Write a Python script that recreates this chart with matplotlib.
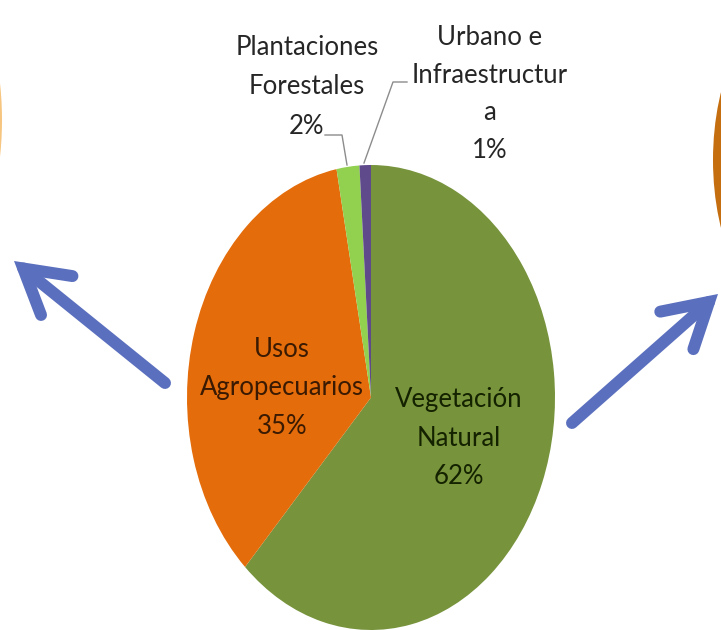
import matplotlib
matplotlib.use("Agg")
import matplotlib.pyplot as plt
from matplotlib import font_manager
from matplotlib.patches import Ellipse

# land-use shares, clockwise from 12 o'clock
categories = ["Vegetación\nNatural", "Usos\nAgropecuarios",
              "Plantaciones\nForestales", "Urbano e\nInfraestructur\na"]
shares = [62, 35, 2, 1]
colors = ["#77933C", "#E46C0A", "#92D050", "#5F4B8B"]

# pick a narrow, Calibri-ish face if one is there
installed = {f.name for f in font_manager.fontManager.ttflist}
face = next((f for f in ["Liberation Sans Narrow", "Lato", "Open Sans"] if f in installed),
            "DejaVu Sans")
plt.rcParams["font.family"] = [face, "DejaVu Sans"]

W, H = 721, 630
fig = plt.figure(figsize=(W / 100, H / 100), dpi=100)

# pie is drawn stretched into an ellipse, like the original picture
pie_l, pie_r, pie_t, pie_b = 187, 555, 165, 630
pax = fig.add_axes([pie_l / W, 1 - pie_b / H, (pie_r - pie_l) / W, (pie_b - pie_t) / H])
pax.pie(shares, colors=colors, startangle=90, counterclock=False,
        wedgeprops=dict(linewidth=0))
pax.set_aspect("auto")
pax.set_xlim(-1, 1)
pax.set_ylim(-1, 1)
pax.axis("off")

# overlay axes in pixel coordinates (y down) for labels, arrows, leaders
ov = fig.add_axes([0, 0, 1, 1])
ov.set_xlim(0, W)
ov.set_ylim(H, 0)
ov.axis("off")

# bits of neighbouring pies cut off at the edges
ov.add_patch(Ellipse((-40, 120), 84, 242, color="#F4B860", alpha=0.8, lw=0))
ov.add_patch(Ellipse((790, 160), 154, 306, color="#C46E10", lw=0))

fs = 18.5
# inside labels
ov.text(282, 388, f"{categories[1]}\n{shares[1]}%", ha="center", va="center",
        fontsize=fs, color="#3A1A02", linespacing=1.67)
ov.text(459, 438, f"{categories[0]}\n{shares[0]}%", ha="center", va="center",
        fontsize=fs, color="#142200", linespacing=1.67)
# outside labels
ov.text(307, 87, f"{categories[2]}\n{shares[2]}%", ha="center", va="center",
        fontsize=fs, color="#262626", linespacing=1.72)
ov.text(490, 94, f"{categories[3]}\n{shares[3]}%", ha="center", va="center",
        fontsize=fs, color="#262626", linespacing=1.64)

# leader lines
ov.plot([325, 342, 347], [135, 135, 165], color="#8C8C8C", lw=1)
ov.plot([407, 393, 364], [82, 82, 163], color="#8C8C8C", lw=1)

# blue arrows
arrow_col = "#5A6FBE"
for tail, tip in [((165, 383), (14, 261)), ((572, 423), (718, 294))]:
    ov.annotate("", xy=tip, xytext=tail,
                arrowprops=dict(arrowstyle="->,head_length=3.1,head_width=1.8",
                                lw=8.6, color=arrow_col, capstyle="round",
                                joinstyle="miter", shrinkA=0, shrinkB=0))

fig.savefig("out.png", dpi=100)
